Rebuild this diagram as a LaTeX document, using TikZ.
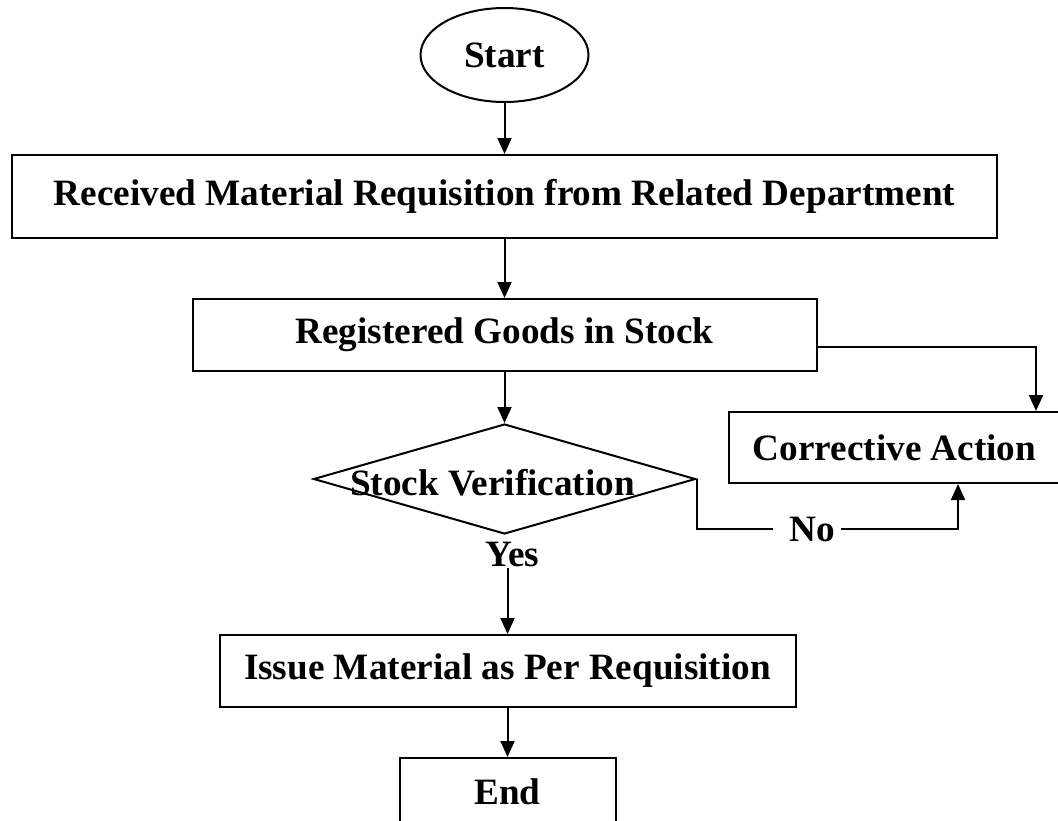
\documentclass[tikz,border=0pt]{standalone}
\usepackage{fontspec}
\setmainfont{Liberation Serif}
\usetikzlibrary{arrows.meta,positioning,shapes.geometric}

\begin{document}
\begin{tikzpicture}[x=0.5pt, y=-0.5pt, >={Triangle[length=8pt,width=7pt]},
       black, text=black, line width=1pt,
       every node/.style={font=\fontsize{18.6}{22}\selectfont\bfseries},
       stepbox/.style 2 args = {rectangle, draw, minimum width=#1,
                                minimum height=#2, inner sep=0pt},
       terminal/.style 2 args = {ellipse, draw, minimum width=#1,
                                 minimum height=#2, inner sep=0pt},
       decision/.style 2 args = {diamond, draw, minimum width=#1,
                                 minimum height=#2, inner sep=0pt}]
	\clip (0,0) rectangle (1058,820);
	%% Main column
	\node [stepbox={492.5pt}{41.5pt}] at (504.5,196.5) (recv)
	      {Received Material Requisition from Related Department};
	\node [terminal={84pt}{47pt},above=25.5pt of recv] (start) {Start};
	\node [stepbox={312pt}{36pt},below=29.5pt of recv] (regd) {Registered Goods in Stock};
	\node [decision={191pt}{55pt},below=25.5pt of regd,
	       label={[shift={(-6pt,-2pt)}]center:Stock Verification}] (verif) {};
	\node [inner sep=0pt,below=3pt of verif.south,xshift=4pt] (yes) {Yes};
	\node [stepbox={288pt}{36pt},below=49.5pt of verif,xshift=1.5pt] (issue)
	      {Issue Material as Per Requisition};
	\node [stepbox={108pt}{34pt},below=24.5pt of issue] (end) {End};
	%% Side branch
	\node [stepbox={165.5pt}{35.5pt}] at (894.5,447.5) (corr) {Corrective Action};
	\node [inner sep=0pt] at (812,529) (no) {No};

	%% Simple paths
	\draw[->] (start) -- (recv);
	\draw[->] (recv) -- (regd);
	\draw[->] (regd) -- (verif);
	\draw[->] (yes.south -| issue.north) -- (issue.north);
	\draw[->] (issue) -- (end);
	%% Paths to corrective action
	\draw[->] ([yshift=-6pt]regd.east) -| ([xshift=-12.5pt]corr.north east);
	\draw (verif.east) |- ([xshift=-7.5pt]no.west);
	\draw[->] ([xshift=2.5pt]no.east) -| ([xshift=115pt]corr.south west);
\end{tikzpicture}
\end{document}
